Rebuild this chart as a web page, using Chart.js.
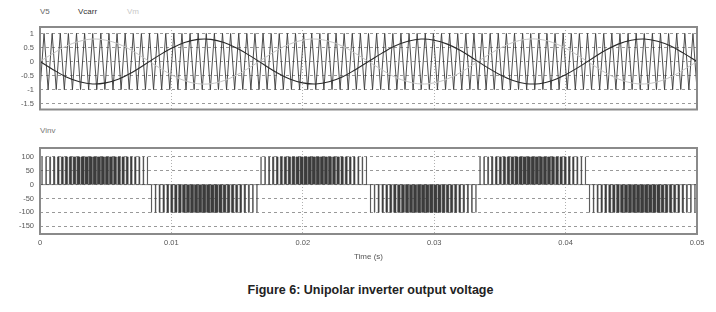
<!DOCTYPE html>
<html>
<head>
<meta charset="utf-8">
<script src="https://cdn.jsdelivr.net/npm/chart.js@4.4.0/dist/chart.umd.min.js"></script>
<style>
body { margin: 0; background: #fff; font-family: "Liberation Sans", Arial, sans-serif; }
#wrap { position: relative; width: 716px; height: 312px; overflow: hidden; }
.lbl { position: absolute; font-size: 8px; line-height: 10px; white-space: nowrap; }
canvas { position: absolute; left: 0; }
</style>
</head>
<body>
<div id="wrap">
  <div class="lbl" style="left:40px;top:7px;color:#666">V5</div>
  <div class="lbl" style="left:78px;top:7px;color:#333">Vcarr</div>
  <div class="lbl" style="left:127px;top:7px;color:#c8c8c8">Vm</div>
  <canvas id="top-canvas" style="top:0" width="716" height="120"></canvas>
  <div class="lbl" style="left:40px;top:126px;color:#777">Vinv</div>
  <canvas id="bottom-canvas" style="top:120px" width="716" height="150"></canvas>
  <div class="lbl" style="left:0;width:737px;top:252px;text-align:center;color:#555">Time (s)</div>
  <div style="position:absolute;left:0;width:741px;top:283px;text-align:center;font-weight:bold;font-size:12.5px;color:#222">Figure 6: Unipolar inverter output voltage</div>
</div>
<script>
document.addEventListener('DOMContentLoaded', function() {

// sample times of the reference curves (ms)
var sampleMs = [0, 1, 2, 3, 4, 5, 6, 7, 8, 9, 10, 11, 12, 13, 14, 15, 16, 17, 18, 19, 20,
    21, 22, 23, 24, 25, 26, 27, 28, 29, 30, 31, 32, 33, 34, 35, 36, 37, 38, 39, 40,
    41, 42, 43, 44, 45, 46, 47, 48, 49, 50];

var v5 = [0, -0.29, -0.55, -0.72, -0.80, -0.76, -0.62, -0.39, -0.10, 0.20, 0.47,
    0.68, 0.79, 0.79, 0.68, 0.47, 0.20, -0.10, -0.39, -0.62, -0.76,
    -0.80, -0.72, -0.55, -0.29, 0, 0.29, 0.55, 0.72, 0.80, 0.76,
    0.62, 0.39, 0.10, -0.20, -0.47, -0.68, -0.79, -0.79, -0.68, -0.47,
    -0.20, 0.10, 0.39, 0.62, 0.76, 0.80, 0.72, 0.55, 0.29, 0];

var vm = [0, 0.29, 0.55, 0.72, 0.80, 0.76, 0.62, 0.39, 0.10, -0.20, -0.47,
    -0.68, -0.79, -0.79, -0.68, -0.47, -0.20, 0.10, 0.39, 0.62, 0.76,
    0.80, 0.72, 0.55, 0.29, 0, -0.29, -0.55, -0.72, -0.80, -0.76,
    -0.62, -0.39, -0.10, 0.20, 0.47, 0.68, 0.79, 0.79, 0.68, 0.47,
    0.20, -0.10, -0.39, -0.62, -0.76, -0.80, -0.72, -0.55, -0.29, 0];

// carrier vertices, one every half carrier period
var carrierStep = 1 / 3240;
var vcarr = [
    -1, 1, -1, 1, -1, 1, -1, 1, -1, 1, -1, 1, -1, 1, -1, 1, -1, 1,
    -1, 1, -1, 1, -1, 1, -1, 1, -1, 1, -1, 1, -1, 1, -1, 1, -1, 1,
    -1, 1, -1, 1, -1, 1, -1, 1, -1, 1, -1, 1, -1, 1, -1, 1, -1, 1,
    -1, 1, -1, 1, -1, 1, -1, 1, -1, 1, -1, 1, -1, 1, -1, 1, -1, 1,
    -1, 1, -1, 1, -1, 1, -1, 1, -1, 1, -1, 1, -1, 1, -1, 1, -1, 1,
    -1, 1, -1, 1, -1, 1, -1, 1, -1, 1, -1, 1, -1, 1, -1, 1, -1, 1,
    -1, 1, -1, 1, -1, 1, -1, 1, -1, 1, -1, 1, -1, 1, -1, 1, -1, 1,
    -1, 1, -1, 1, -1, 1, -1, 1, -1, 1, -1, 1, -1, 1, -1, 1, -1, 1,
    -1, 1, -1, 1, -1, 1, -1, 1, -1, 1, -1, 1, -1, 1, -1, 1, -1, 1,
    -1];

// Vinv: pulse widths (fraction of a slot) over one half cycle, sign per half cycle
var pulseDuty = [0.05, 0.14, 0.23, 0.32, 0.40, 0.48, 0.55, 0.61, 0.67, 0.72, 0.75, 0.78, 0.79,
    0.80, 0.79, 0.78, 0.75, 0.72, 0.67, 0.61, 0.55, 0.48, 0.40, 0.32, 0.23, 0.14, 0.05];
var halfCycleSign = [1, -1, 1, -1, 1, -1];
var vinvAmp = 100;

var topTicks = [1, 0.5, 0, -0.5, -1, -1.5];
var bottomTicks = [100, 50, 0, -50, -100, -150];
var timeTicks = [0, 0.01, 0.02, 0.03, 0.04, 0.05];

function pairs(times, values) {
    return values.map(function(v, i) { return {x: times[i], y: v}; });
}
var sampleSec = sampleMs.map(function(t) { return t / 1000; });
var carrTimes = vcarr.map(function(v, i) { return i * carrierStep; });

var vinvPoints = [{x: 0, y: 0}];
halfCycleSign.forEach(function(sign, h) {
    pulseDuty.forEach(function(d, k) {
        var centre = (h * pulseDuty.length + k + 0.5) * carrierStep;
        vinvPoints.push({x: centre - d * carrierStep / 2, y: sign * vinvAmp});
        vinvPoints.push({x: centre + d * carrierStep / 2, y: 0});
    });
});
vinvPoints.push({x: 0.05, y: 0});

var framePlugin = {
    id: 'frame',
    afterDraw: function(chart) {
        var a = chart.chartArea, ctx = chart.ctx;
        ctx.save();
        ctx.strokeStyle = '#8a8a8a';
        ctx.lineWidth = 2;
        ctx.strokeRect(a.left, a.top, a.right - a.left, a.bottom - a.top);
        ctx.restore();
    }
};

function fixTicks(list) {
    return function(scale) {
        scale.ticks = list.map(function(v) { return {value: v}; });
    };
}
function plainLabel(v) {
    return String(Math.round(v * 100) / 100);
}

var tickFont = {family: '"Liberation Sans", Arial, sans-serif', size: 7.5};

var topChart = new Chart(document.getElementById('top-canvas').getContext('2d'), {
    type: 'line',
    data: {
        datasets: [
            {label: 'V5', data: pairs(sampleSec, v5), borderColor: '#2a2a2a', borderWidth: 1.1, tension: 0.4},
            {label: 'Vm', data: pairs(sampleSec, vm), borderColor: '#c4c4c4', borderWidth: 1, tension: 0.4},
            {label: 'Vcarr', data: pairs(carrTimes, vcarr), borderColor: '#3a3a3a', borderWidth: 0.9}
        ]
    },
    options: {
        responsive: false,
        animation: false,
        events: [],
        elements: {point: {radius: 0}},
        layout: {padding: {top: 27, right: 19, bottom: 6, left: 0}},
        scales: {
            x: {
                type: 'linear', min: 0, max: 0.05,
                afterBuildTicks: fixTicks(timeTicks),
                afterFit: function(scale) { scale.height = 0; },
                ticks: {display: false},
                grid: {color: '#b0b0b0', drawTicks: false},
                border: {display: false, dash: [1, 2]}
            },
            y: {
                min: -1.71, max: 1.23,
                afterBuildTicks: fixTicks(topTicks),
                afterFit: function(scale) { scale.width = 40; },
                ticks: {font: tickFont, color: '#555', padding: 6, callback: plainLabel},
                grid: {color: '#999', drawTicks: false},
                border: {display: false, dash: [3, 3]}
            }
        },
        plugins: {legend: {display: false}, tooltip: {enabled: false}}
    },
    plugins: [framePlugin]
});

var bottomChart = new Chart(document.getElementById('bottom-canvas').getContext('2d'), {
    type: 'line',
    data: {
        datasets: [
            {label: 'Vinv', data: vinvPoints, stepped: true, borderColor: '#3c3c3c', borderWidth: 0.6,
             backgroundColor: '#3c3c3c', fill: 'origin'}
        ]
    },
    options: {
        responsive: false,
        animation: false,
        events: [],
        elements: {point: {radius: 0}},
        layout: {padding: {top: 28, right: 19, bottom: 0, left: 0}},
        scales: {
            x: {
                type: 'linear', min: 0, max: 0.05,
                afterBuildTicks: fixTicks(timeTicks),
                afterFit: function(scale) { scale.height = 36; },
                ticks: {font: tickFont, color: '#555', padding: 4, callback: plainLabel},
                grid: {color: '#b0b0b0', drawTicks: false},
                border: {display: false, dash: [1, 2]}
            },
            y: {
                min: -178, max: 132,
                afterBuildTicks: fixTicks(bottomTicks),
                afterFit: function(scale) { scale.width = 40; },
                ticks: {font: tickFont, color: '#555', padding: 6, callback: plainLabel},
                grid: {color: '#999', drawTicks: false},
                border: {display: false, dash: [3, 3]}
            }
        },
        plugins: {legend: {display: false}, tooltip: {enabled: false}}
    },
    plugins: [framePlugin]
});

});
</script>
</body>
</html>
